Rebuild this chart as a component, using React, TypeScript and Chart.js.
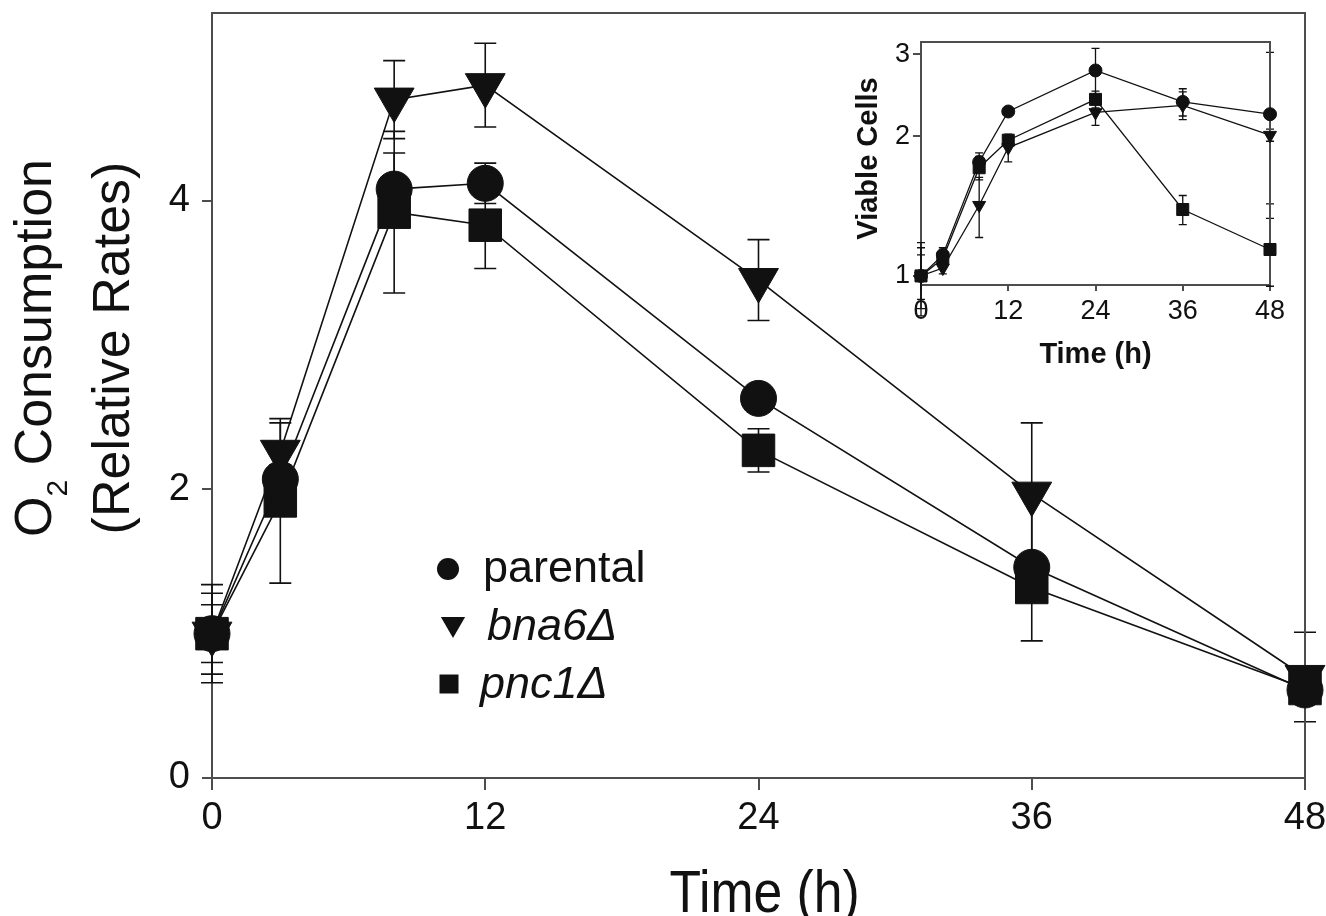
import React, { useEffect, useRef } from 'react';
import { Chart, registerables } from 'chart.js';

Chart.register(...registerables);

// Sampling times (h)
const hours = [0, 3, 8, 12, 24, 36, 48];
const hourTicks = [0, 12, 24, 36, 48];

// O2 consumption (relative rates), mean and error
const o2Parental = [1.0, 2.07, 4.08, 4.12, 2.63, 1.46, 0.61];
const o2Bna6 = [1.0, 2.26, 4.7, 4.8, 3.45, 1.97, 0.7];
const o2Pnc1 = [1.0, 1.92, 3.92, 3.83, 2.27, 1.32, 0.62];
const o2ParentalErr = [0.28, 0.1, 0.25, 0.14, 0.05, 0.51, 0.08];
const o2Bna6Err = [0.2, 0.2, 0.27, 0.29, 0.28, 0.49, 0.31];
const o2Pnc1Err = [0.34, 0.57, 0.56, 0.3, 0.15, 0.1, 0.08];
const o2Ticks = [0, 2, 4];

// Viable cells (log scale), mean and error
const cellsParental = [1.0, 1.11, 1.76, 2.26, 2.77, 2.37, 2.23];
const cellsBna6 = [1.0, 1.04, 1.42, 1.89, 2.25, 2.33, 2.01];
const cellsPnc1 = [1.0, 1.09, 1.71, 1.96, 2.4, 1.39, 1.14];
const cellsParentalErr = [0.18, 0.04, 0.08, 0.04, 0.32, 0.16, 0.8];
const cellsBna6Err = [0.15, 0.03, 0.21, 0.13, 0.14, 0.16, 0.06];
const cellsPnc1Err = [0.11, 0.03, 0.1, 0.05, 0.1, 0.1, 0.19];
const cellsTicks = [1, 2, 3];

const strainNames = ['parental', 'bna6', 'pnc1'];
const deltaMark = 'Δ';

const FONT = '"Liberation Sans", Arial, Helvetica, sans-serif';
const INK = '#111111';
const AXIS = '#4d4d4d';

type Marker = 'circle' | 'triangle' | 'rect';

function series(label: string, values: number[], errs: number[], marker: Marker, radius: number, lineWidth: number) {
  return {
    label,
    data: hours.map((h, i) => ({ x: h, y: values[i] })),
    errorBars: errs,
    borderColor: INK,
    borderWidth: lineWidth,
    backgroundColor: INK,
    pointStyle: marker,
    pointRotation: marker === 'triangle' ? 180 : 0,
    pointRadius: radius,
    pointHoverRadius: radius,
    pointBackgroundColor: INK,
    pointBorderColor: INK,
    pointBorderWidth: 1,
    tension: 0,
    fill: false,
    clip: false,
  };
}

// Vertical error bars with caps, drawn from each dataset's errorBars array
const errorBarPlugin = {
  id: 'errorBars',
  beforeDatasetsDraw(chart: any, _args: any, opts: any) {
    const { ctx } = chart;
    const xs = chart.scales.x;
    const ys = chart.scales.y;
    ctx.save();
    ctx.strokeStyle = INK;
    ctx.lineWidth = opts.lineWidth;
    chart.data.datasets.forEach((ds: any) => {
      const errs: number[] = ds.errorBars;
      if (!errs) return;
      ds.data.forEach((p: any, i: number) => {
        const e = errs[i];
        if (!e) return;
        const px = xs.getPixelForValue(p.x);
        const top = ys.getPixelForValue(p.y + e);
        const bot = ys.getPixelForValue(p.y - e);
        ctx.beginPath();
        ctx.moveTo(px, top);
        ctx.lineTo(px, bot);
        ctx.moveTo(px - opts.cap, top);
        ctx.lineTo(px + opts.cap, top);
        ctx.moveTo(px - opts.cap, bot);
        ctx.lineTo(px + opts.cap, bot);
        ctx.stroke();
      });
    });
    ctx.restore();
  },
};

// Top and right edges of the plot box
const framePlugin = {
  id: 'frame',
  beforeDatasetsDraw(chart: any, _args: any, opts: any) {
    const { ctx, chartArea: a } = chart;
    ctx.save();
    ctx.strokeStyle = AXIS;
    ctx.lineWidth = opts.lineWidth;
    ctx.beginPath();
    ctx.moveTo(a.left, a.top);
    ctx.lineTo(a.right, a.top);
    ctx.lineTo(a.right, a.bottom);
    ctx.stroke();
    ctx.restore();
  },
};

function drawMarker(ctx: CanvasRenderingContext2D, marker: Marker, x: number, y: number, r: number) {
  ctx.beginPath();
  if (marker === 'circle') {
    ctx.arc(x, y, r, 0, Math.PI * 2);
  } else if (marker === 'triangle') {
    const h = r * 0.866;
    ctx.moveTo(x - h, y - r / 2);
    ctx.lineTo(x + h, y - r / 2);
    ctx.lineTo(x, y + r);
    ctx.closePath();
  } else {
    ctx.rect(x - r, y - r, 2 * r, 2 * r);
  }
  ctx.fill();
}

// Axis titles and the in-plot key of the main panel
const mainTextPlugin = {
  id: 'mainText',
  afterDraw(chart: any) {
    const { ctx, chartArea: a } = chart;
    ctx.save();
    ctx.fillStyle = INK;

    // x title
    ctx.save();
    ctx.translate((a.left + a.right) / 2 + 6, chart.height - 4);
    ctx.scale(0.86, 1);
    ctx.font = `60px ${FONT}`;
    ctx.textAlign = 'center';
    ctx.textBaseline = 'alphabetic';
    ctx.fillText('Time (h)', 0, 0);
    ctx.restore();

    // y title, two lines with subscript
    const midY = 348;
    ctx.save();
    ctx.translate(51, midY);
    ctx.rotate(-Math.PI / 2);
    ctx.textBaseline = 'alphabetic';
    ctx.textAlign = 'left';
    const big = `52px ${FONT}`;
    const small = `30px ${FONT}`;
    ctx.font = big;
    const wO = ctx.measureText('O').width;
    const wRest = ctx.measureText(' Consumption').width;
    ctx.font = small;
    const w2 = ctx.measureText('2').width;
    let sx = -(wO + w2 + wRest) / 2;
    ctx.font = big;
    ctx.fillText('O', sx, 0);
    sx += wO;
    ctx.font = small;
    ctx.fillText('2', sx, 16);
    sx += w2;
    ctx.font = big;
    ctx.fillText(' Consumption', sx, 0);
    ctx.restore();

    ctx.save();
    ctx.translate(129, midY);
    ctx.rotate(-Math.PI / 2);
    ctx.font = `52px ${FONT}`;
    ctx.textAlign = 'center';
    ctx.textBaseline = 'alphabetic';
    ctx.fillText('(Relative Rates)', 0, 0);
    ctx.restore();

    // key
    const kx = a.left;
    const ky = a.top;
    const rows: { marker: Marker; mx: number; my: number; r: number; tx: number; ty: number; italic: boolean; text: string }[] = [
      { marker: 'circle', mx: 236, my: 556, r: 11, tx: 271, ty: 569, italic: false, text: strainNames[0] },
      { marker: 'triangle', mx: 241, my: 611, r: 14, tx: 275, ty: 627, italic: true, text: strainNames[1] + deltaMark },
      { marker: 'rect', mx: 237, my: 671, r: 9.5, tx: 268, ty: 685, italic: true, text: strainNames[2] + deltaMark },
    ];
    rows.forEach((row) => {
      drawMarker(ctx, row.marker, kx + row.mx, ky + row.my, row.r);
      ctx.font = `${row.italic ? 'italic ' : ''}45px ${FONT}`;
      ctx.textAlign = 'left';
      ctx.textBaseline = 'alphabetic';
      ctx.fillText(row.text, kx + row.tx, ky + row.ty);
    });

    ctx.restore();
  },
};

const insetTextPlugin = {
  id: 'insetText',
  afterDraw(chart: any) {
    const { ctx, chartArea: a } = chart;
    ctx.save();
    ctx.fillStyle = INK;
    ctx.font = `bold 29px ${FONT}`;
    ctx.textAlign = 'center';
    ctx.textBaseline = 'alphabetic';
    ctx.fillText('Time (h)', (a.left + a.right) / 2, 363);
    ctx.translate(37, (a.top + a.bottom) / 2 - 5);
    ctx.rotate(-Math.PI / 2);
    ctx.fillText('Viable Cells', 0, 0);
    ctx.restore();
  },
};

function axisOptions(
  kind: 'x' | 'y',
  ticksList: number[],
  fixed: number,
  tickLength: number,
  fontSize: number,
  padding: number,
  lineWidth: number
) {
  return {
    afterBuildTicks: (s: any) => {
      s.ticks = ticksList.map((v) => ({ value: v }));
    },
    afterFit: (s: any) => {
      // fixed axis band; labels may overhang the plot box freely
      if (kind === 'x') s.height = fixed;
      else s.width = fixed;
      s.paddingTop = 0;
      s.paddingBottom = 0;
      s.paddingLeft = 0;
      s.paddingRight = 0;
    },
    grid: {
      display: true,
      drawOnChartArea: false,
      drawTicks: true,
      tickLength,
      color: AXIS,
      lineWidth,
    },
    border: { display: true, color: AXIS, width: lineWidth },
    ticks: {
      color: INK,
      font: { family: FONT, size: fontSize },
      padding,
      maxRotation: 0,
      minRotation: 0,
      autoSkip: false,
      callback: (v: any) => String(v),
    },
  };
}

export default function App() {
  const mainRef = useRef<HTMLCanvasElement | null>(null);
  const insetRef = useRef<HTMLCanvasElement | null>(null);

  useEffect(() => {
    if (!mainRef.current || !insetRef.current) return;

    const main = new Chart(mainRef.current, {
      type: 'line',
      data: {
        datasets: [
          series(strainNames[0], o2Parental, o2ParentalErr, 'circle', 18, 1.6),
          series(strainNames[1], o2Bna6, o2Bna6Err, 'triangle', 23, 1.6),
          series(strainNames[2], o2Pnc1, o2Pnc1Err, 'rect', 23, 1.6),
        ] as any,
      },
      options: {
        responsive: false,
        animation: false,
        devicePixelRatio: 1,
        layout: { autoPadding: false, padding: { top: 13, right: 21, left: 0, bottom: 0 } },
        plugins: {
          legend: { display: false },
          tooltip: { enabled: false },
          errorBars: { cap: 11, lineWidth: 1.6 },
          frame: { lineWidth: 2 },
        } as any,
        scales: {
          x: { type: 'linear', min: 0, max: 48, ...axisOptions('x', hourTicks, 138, 12, 38, 6, 2) } as any,
          y: { type: 'linear', min: 0, max: 5.3, ...axisOptions('y', o2Ticks, 212, 10, 38, 12, 2) } as any,
        },
      } as any,
      plugins: [errorBarPlugin, framePlugin, mainTextPlugin],
    });

    const inset = new Chart(insetRef.current, {
      type: 'line',
      data: {
        datasets: [
          series(strainNames[0], cellsParental, cellsParentalErr, 'circle', 6.5, 1.3),
          series(strainNames[1], cellsBna6, cellsBna6Err, 'triangle', 7.5, 1.3),
          series(strainNames[2], cellsPnc1, cellsPnc1Err, 'rect', 8.5, 1.3),
        ] as any,
      },
      options: {
        responsive: false,
        animation: false,
        devicePixelRatio: 1,
        layout: { autoPadding: false, padding: { top: 42, right: 30, left: 0, bottom: 0 } },
        plugins: {
          legend: { display: false },
          tooltip: { enabled: false },
          errorBars: { cap: 4, lineWidth: 1.3 },
          frame: { lineWidth: 2 },
        } as any,
        scales: {
          x: { type: 'linear', min: 0, max: 48, ...axisOptions('x', hourTicks, 95, 6, 27, 4, 2) } as any,
          y: { type: 'logarithmic', min: 0.956, max: 3.19, ...axisOptions('y', cellsTicks, 81, 8, 27, 3, 2) } as any,
        },
      } as any,
      plugins: [errorBarPlugin, framePlugin, insetTextPlugin],
    });

    return () => {
      main.destroy();
      inset.destroy();
    };
  }, []);

  return (
    <div style={{ position: 'absolute', left: 0, top: 0, width: 1326, height: 916, background: '#ffffff' }}>
      <canvas ref={mainRef} width={1326} height={916} style={{ position: 'absolute', left: 0, top: 0, width: 1326, height: 916 }} />
      <canvas ref={insetRef} width={460} height={380} style={{ position: 'absolute', left: 840, top: 0, width: 460, height: 380 }} />
    </div>
  );
}
